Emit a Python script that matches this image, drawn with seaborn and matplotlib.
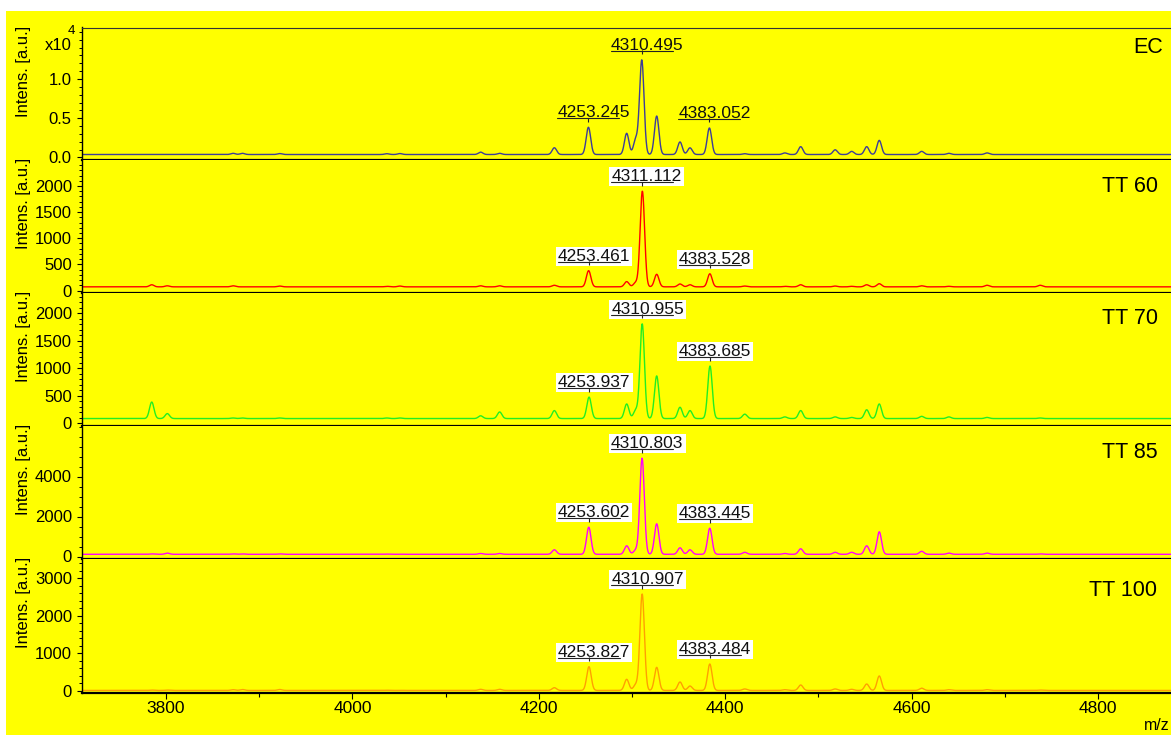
import numpy as np
import pandas as pd
import matplotlib
matplotlib.use("Agg")
import matplotlib.pyplot as plt
import matplotlib.transforms as mtransforms
from matplotlib.patches import Rectangle
from matplotlib.ticker import MultipleLocator, FixedLocator
import seaborn as sns

# ---------------------------------------------------------------- data
sample_names = ["EC", "TT 60", "TT 70", "TT 85", "TT 100"]

# labelled peaks: m/z and height above baseline
ec_label_mz = [4253.245, 4310.495, 4383.052]
ec_label_int = [3470, 12020, 3380]
tt60_label_mz = [4253.461, 4311.112, 4383.528]
tt60_label_int = [310, 1830, 250]
tt70_label_mz = [4253.937, 4310.955, 4383.685]
tt70_label_int = [390, 1720, 955]
tt85_label_mz = [4253.602, 4310.803, 4383.445]
tt85_label_int = [1355, 4805, 1305]
tt100_label_mz = [4253.827, 4310.907, 4383.484]
tt100_label_int = [632, 2565, 704]

# unlabelled peaks shared by the spectra
minor_mz = [3784.7, 3801.4, 3872.0, 3882.0, 3922.0, 4037.0, 4051.0, 4137.6,
            4158.0, 4216.7, 4294.3, 4304.0, 4326.5, 4351.5, 4362.2, 4421.0,
            4464.0, 4481.0, 4518.0, 4535.7, 4551.8, 4565.3, 4610.8, 4640.0,
            4681.0, 4738.0]
ec_minor_int = [0, 0, 150, 150, 120, 100, 120, 300, 150, 860, 2700, 1900,
                4900, 1600, 850, 100, 200, 1000, 600, 400, 1000, 1800, 400,
                150, 200, 0]
tt60_minor_int = [40, 20, 20, 0, 15, 10, 15, 20, 20, 30, 100, 80, 240, 55,
                  40, 15, 10, 40, 15, 10, 40, 60, 20, 10, 30, 30]
tt70_minor_int = [300, 90, 10, 10, 10, 10, 10, 50, 120, 145, 265, 150, 775,
                  205, 145, 80, 30, 145, 30, 20, 160, 265, 40, 30, 20, 10]
tt85_minor_int = [20, 60, 20, 20, 20, 10, 10, 40, 40, 225, 425, 200, 1525,
                  325, 225, 100, 40, 275, 100, 100, 425, 1125, 150, 60, 60, 20]
tt100_minor_int = [10, 10, 20, 25, 25, 5, 5, 30, 30, 73, 296, 150, 615, 225,
                   118, 40, 20, 145, 40, 30, 171, 385, 60, 20, 20, 10]

baselines = [380, 70, 90, 110, 15]

# intensity tick values per panel (EC in units of 10^4)
ec_ticks = [0.0, 0.5, 1.0]
tt60_ticks = [0, 500, 1000, 1500, 2000]
tt70_ticks = [0, 500, 1000, 1500, 2000]
tt85_ticks = [0, 2000, 4000]
tt100_ticks = [0, 1000, 2000, 3000]

label_mz = [ec_label_mz, tt60_label_mz, tt70_label_mz, tt85_label_mz, tt100_label_mz]
label_int = [ec_label_int, tt60_label_int, tt70_label_int, tt85_label_int, tt100_label_int]
minor_int = [ec_minor_int, tt60_minor_int, tt70_minor_int, tt85_minor_int, tt100_minor_int]
major_ticks = [ec_ticks, tt60_ticks, tt70_ticks, tt85_ticks, tt100_ticks]

# ---------------------------------------------------------------- style
line_colors = ["#3d3d99", "#ff0000", "#22ee22", "#ff00ff", "#ffa000"]
y_limits = [(-0.032, 1.656), (-42, 2497), (-40, 2378), (-125, 6540), (-45, 3513)]
y_minor = [0.1, 100, 100, 500, 200]
name_y_px = [47.5, 186.5, 318, 453, 590]
name_right_px = [1163, 1158, 1158, 1158, 1157]
panel_edges_px = [27.5, 160, 292.7, 425.7, 559, 692.7]

W, H = 1171, 735
px_per_da = 0.932
x_left_px, x_right_px = 82, 1190
mz_lo = 3800 - (166 - x_left_px) / px_per_da
mz_hi = mz_lo + (x_right_px - x_left_px) / px_per_da

sns.set_theme(style="ticks")
plt.rcParams["font.family"] = ["Liberation Sans", "DejaVu Sans"]
plt.rcParams["axes.facecolor"] = "#ffff00"

mz = np.arange(3700.0, 4900.0, 0.25)


def spectrum(base, centers, heights, sigma=2.4):
    c = np.asarray(centers)[:, None]
    h = np.asarray(heights, dtype=float)[:, None]
    return base + (h * np.exp(-0.5 * ((mz[None, :] - c) / sigma) ** 2)).sum(axis=0)


frames = []
for i, name in enumerate(sample_names):
    inten = spectrum(baselines[i], list(label_mz[i]) + minor_mz,
                     list(label_int[i]) + minor_int[i])
    frames.append(pd.DataFrame({"mz": mz, "intensity": inten, "sample": name}))
spectra = pd.concat(frames, ignore_index=True)

fig = plt.figure(figsize=(W / 100, H / 100), dpi=100)
fig.patch.set_facecolor("white")
fig.patches.append(Rectangle((6 / W, 0), 1, (H - 11) / H, transform=fig.transFigure,
                             facecolor="#ffff00", edgecolor="none", zorder=-5))

for i, name in enumerate(sample_names):
    top, bot = panel_edges_px[i], panel_edges_px[i + 1]
    ax = fig.add_axes([x_left_px / W, (H - bot) / H,
                       (x_right_px - x_left_px) / W, (bot - top) / H])
    ax.set_facecolor("#ffff00")
    d = spectra[spectra["sample"] == name].copy()
    scale = 1e4 if i == 0 else 1.0
    d["y"] = d["intensity"] / scale
    sns.lineplot(data=d, x="mz", y="y", ax=ax, color=line_colors[i], lw=1.0,
                 estimator=None, sort=False, legend=False)

    ax.set_xlim(mz_lo, mz_hi)
    ax.set_ylim(*y_limits[i])
    ax.set_xlabel("")
    ax.set_ylabel("")

    ax.spines["right"].set_visible(False)
    ax.spines["top"].set_visible(i == 0)
    ax.spines["top"].set_color("#333333")
    ax.spines["top"].set_linewidth(0.8)
    ax.spines["bottom"].set_color("black")
    ax.spines["bottom"].set_linewidth(1.6)
    ax.spines["left"].set_color("black")
    ax.spines["left"].set_linewidth(1.0)

    ax.yaxis.set_major_locator(FixedLocator(major_ticks[i]))
    ax.yaxis.set_minor_locator(MultipleLocator(y_minor[i]))
    if i == 0:
        ax.yaxis.set_major_formatter(plt.FuncFormatter(lambda v, p: f"{v:.1f}"))
    ax.tick_params(axis="y", which="major", direction="out", length=3.8, width=0.8,
                   labelsize=12, pad=3.5, colors="black")
    ax.tick_params(axis="y", which="minor", direction="out", length=2.2, width=0.7,
                   colors="black")

    if i < len(sample_names) - 1:
        ax.tick_params(axis="x", which="both", bottom=False, labelbottom=False)
    else:
        ax.xaxis.set_major_locator(MultipleLocator(200))
        ax.xaxis.set_minor_locator(MultipleLocator(100))
        ax.tick_params(axis="x", which="major", direction="out", length=4, width=0.8,
                       labelsize=12.5, pad=2, colors="black")
        ax.tick_params(axis="x", which="minor", direction="out", length=3, width=0.8,
                       colors="black")

    # peak annotations: underlined m/z with a short marker above the peak
    half = 31 / px_per_da
    text_tr = mtransforms.offset_copy(ax.transData, fig=fig, x=-31, y=10, units="dots")
    line_tr = mtransforms.offset_copy(ax.transData, fig=fig, x=0, y=9, units="dots")
    tick_tr = mtransforms.offset_copy(ax.transData, fig=fig, x=0, y=7.5, units="dots")
    for pm in label_mz[i]:
        py = np.interp(pm, d["mz"].values, d["y"].values)
        bbox = None if i == 0 else dict(boxstyle="square,pad=0.12", fc="white", ec="none")
        ax.text(pm, py, f"{pm:.3f}", transform=text_tr, ha="left", va="baseline",
                fontsize=12.5, color="#111111", bbox=bbox, zorder=5, clip_on=False)
        ax.plot([pm - half, pm + half], [py, py], transform=line_tr, color="#222222",
                lw=0.8, zorder=6, clip_on=False)
        ax.plot([pm], [py], transform=tick_tr, marker="|", markersize=2.6,
                markeredgewidth=0.8, color="#222222", zorder=6, clip_on=False)

    # sample name in the upper right corner
    fig.text(name_right_px[i] / W, (H - name_y_px[i]) / H, name, ha="right",
             va="center", fontsize=15.5, color="black")

    # intensity axis title, aligned to the top of each panel
    fig.text(24 / W, (H - (top - 2)) / H, "Intens. [a.u.]", rotation=90,
             ha="center", va="top", fontsize=12, color="black")

# intensity scale factor of the first panel
fig.text(72 / W, (H - 46) / H, "x10", ha="right", va="center", fontsize=12, color="black")
fig.text(68 / W, (H - 31) / H, "4", ha="left", va="center", fontsize=9.5, color="black")

# m/z axis title at the lower right
fig.text(1144 / W, (H - 726) / H, "m/z", ha="left", va="center", fontsize=11.5, color="black")

fig.savefig("out.png", dpi=100, facecolor=fig.get_facecolor())
